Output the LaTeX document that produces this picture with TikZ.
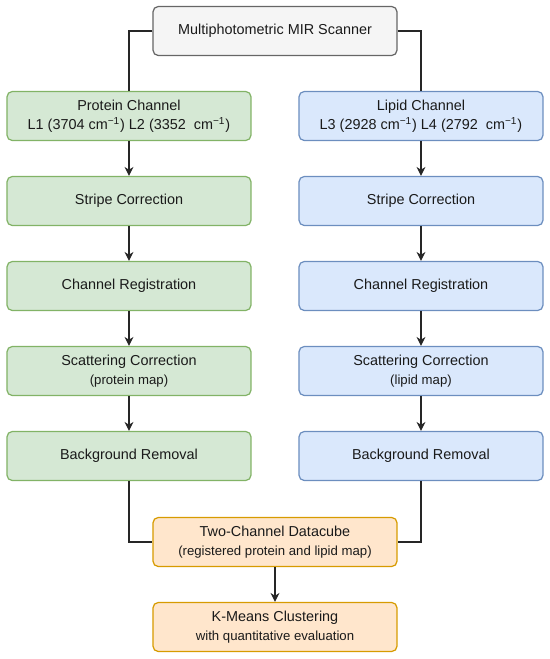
\documentclass[tikz,border=0pt]{standalone}
\usepackage{fontspec}
\setmainfont{Liberation Sans}
\usetikzlibrary{shapes.geometric, arrows.meta}

\definecolor{greyfill}{HTML}{F5F5F5}
\definecolor{greyline}{HTML}{666666}
\definecolor{greenfill}{HTML}{D5E8D4}
\definecolor{greenline}{HTML}{82B366}
\definecolor{bluefill}{HTML}{DAE8FC}
\definecolor{blueline}{HTML}{6C8EBF}
\definecolor{orangefill}{HTML}{FFE6CC}
\definecolor{orangeline}{HTML}{D79B00}
\definecolor{textgrey}{HTML}{1A1A1A}

\tikzstyle{box} = [
    rectangle,
    rounded corners=3pt,
    minimum width=4.88cm,
    minimum height=0.98cm,
    inner sep=1pt,
    align=center,
    line width=0.7pt,
    text=textgrey,
    font=\fontsize{8.2}{10.8}\selectfont
]
\tikzstyle{scanner} = [box, fill=greyfill, draw=greyline]
\tikzstyle{protein} = [box, fill=greenfill, draw=greenline]
\tikzstyle{lipid} = [box, fill=bluefill, draw=blueline]
\tikzstyle{result} = [box, fill=orangefill, draw=orangeline]
\tikzstyle{line} = [line width=0.6pt, draw=black!85]
\tikzstyle{arrow} = [line, -{Stealth[length=1.8mm,width=1.8mm]}]

\newcommand{\sublabel}[1]{{\fontsize{7.5}{10}\selectfont #1}}
\newcommand{\wavenum}{cm\textsuperscript{−1}}

\begin{document}
\begin{tikzpicture}[node distance=1.7cm]

\useasboundingbox (-5.5,0) rectangle (5.5,-13.18);

\node (scan) [scanner] at (0,-0.62) {Multiphotometric MIR Scanner};

% protein branch
\node (protChan) [protein] at (-2.92,-2.32)
{Protein Channel\\L1 (3704 \wavenum) L2 (3352\ \ \wavenum)};
\node (protStripe) [protein, below of=protChan] {Stripe Correction};
\node (protReg) [protein, below of=protStripe] {Channel Registration};
\node (protScat) [protein, below of=protReg]
{Scattering Correction\\\sublabel{(protein map)}};
\node (protBg) [protein, below of=protScat] {Background Removal};

% lipid branch
\node (lipChan) [lipid] at (2.92,-2.32)
{Lipid Channel\\L3 (2928 \wavenum) L4 (2792\ \ \wavenum)};
\node (lipStripe) [lipid, below of=lipChan] {Stripe Correction};
\node (lipReg) [lipid, below of=lipStripe] {Channel Registration};
\node (lipScat) [lipid, below of=lipReg]
{Scattering Correction\\\sublabel{(lipid map)}};
\node (lipBg) [lipid, below of=lipScat] {Background Removal};

\node (cube) [result] at (0,-10.84)
{Two-Channel Datacube\\\sublabel{(registered protein and lipid map)}};
\node (kmeans) [result, below of=cube]
{K-Means Clustering\\\sublabel{with quantitative evaluation}};

\draw [line] (scan) -| (protChan);
\draw [line] (scan) -| (lipChan);
\draw [arrow] (protChan) -- (protStripe);
\draw [arrow] (protStripe) -- (protReg);
\draw [arrow] (protReg) -- (protScat);
\draw [arrow] (protScat) -- (protBg);
\draw [arrow] (lipChan) -- (lipStripe);
\draw [arrow] (lipStripe) -- (lipReg);
\draw [arrow] (lipReg) -- (lipScat);
\draw [arrow] (lipScat) -- (lipBg);
\draw [line] (protBg) |- (cube);
\draw [line] (lipBg) |- (cube);
\draw [arrow] (cube) -- (kmeans);

\end{tikzpicture}
\end{document}
